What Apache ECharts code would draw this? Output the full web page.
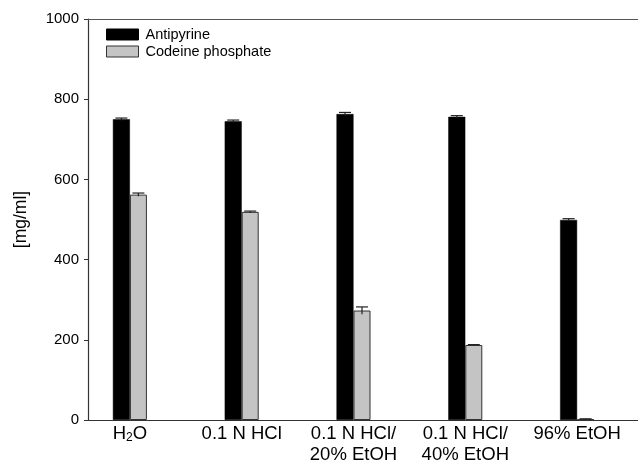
<!DOCTYPE html>
<html>
<head>
<meta charset="utf-8">
<script src="https://cdn.jsdelivr.net/npm/echarts@6/dist/echarts.min.js"></script>
<style>
html,body{margin:0;padding:0;background:#fff;}
#c{width:638px;height:463px;}
</style>
</head>
<body>
<div id="c"></div>
<script>
var categories = ['H2O', '0.1 N HCl', '0.1 N HCl/\n20% EtOH', '0.1 N HCl/\n40% EtOH', '96% EtOH'];
var antipyrine = [750, 745, 763, 756, 499];
var antipyrineErr = [3, 3, 4, 3, 3];
var codeine = [562, 519, 273, 187, 2];
var codeineErr = [4, 2, 9, 1, 1];
var yTicks = [0, 200, 400, 600, 800, 1000];

var FONT = 'Liberation Sans, Arial, sans-serif';
var BW = 17;

function errSeries(name, vals, errs, side) {
  return {
    type: 'custom',
    name: name + ' err',
    xAxisIndex: 0, yAxisIndex: 0,
    silent: true,
    data: vals.map(function (v, i) { return [i, v, errs[i]]; }),
    renderItem: function (params, api) {
      var i = api.value(0), v = api.value(1), e = api.value(2);
      var c = api.coord([i, v]);
      var x = c[0] + side * BW / 2;
      var top = api.coord([i, v + e])[1];
      var bot = api.coord([i, v - e])[1];
      var hw = 6;
      var st = { stroke: '#222', lineWidth: 1.2 };
      return {
        type: 'group',
        children: [
          { type: 'line', shape: { x1: x, y1: top, x2: x, y2: bot }, style: st },
          { type: 'line', shape: { x1: x - hw, y1: top, x2: x + hw, y2: top }, style: st }
        ]
      };
    },
    z: 5
  };
}

var chart = echarts.init(document.getElementById('c'), null, { renderer: 'canvas' });
chart.setOption({
  animation: false,
  backgroundColor: '#fff',
  textStyle: { fontFamily: FONT, color: '#000' },
  grid: [
    { left: 74, right: 5, top: 19, bottom: 43, containLabel: false, outerBoundsMode: 'none' },
    { left: 88, right: 0, top: 19, bottom: 43, containLabel: false, outerBoundsMode: 'none' }
  ],
  legend: {
    orient: 'vertical',
    left: 106, top: 27, padding: 0,
    icon: 'rect',
    itemWidth: 32, itemHeight: 11, itemGap: 2,
    textStyle: { fontSize: 14.5, color: '#000', fontFamily: FONT, padding: [0, 0, 0, 2] },
    data: [
      { name: 'Antipyrine', itemStyle: { color: '#000', borderColor: '#000', borderWidth: 1 } },
      { name: 'Codeine phosphate', itemStyle: { color: '#c4c4c4', borderColor: '#333', borderWidth: 1 } }
    ]
  },
  xAxis: [
    {
      type: 'category', gridIndex: 0, data: categories,
      axisLine: { show: false }, axisTick: { show: false },
      axisLabel: {
        margin: 3, interval: 0,
        formatter: function (v) {
          if (v === 'H2O') return '{a|H}{s|2}{a|O}';
          return v.split('\n').map(function (l) { return '{a|' + l + '}'; }).join('\n');
        },
        rich: {
          a: { fontSize: 18.5, lineHeight: 21, color: '#000', fontFamily: FONT },
          s: { fontSize: 12, lineHeight: 21, color: '#000', fontFamily: FONT, padding: [8, 0, 0, 0] }
        }
      }
    },
    {
      type: 'value', gridIndex: 1, position: 'bottom', min: 0, max: 1,
      axisLine: { show: true, lineStyle: { color: '#333', width: 1.2 } },
      axisTick: { show: false }, axisLabel: { show: false }, splitLine: { show: false }
    },
    {
      type: 'value', gridIndex: 1, position: 'top', min: 0, max: 1,
      axisLine: { show: true, onZero: false, lineStyle: { color: '#555', width: 1.2 } },
      axisTick: { show: false }, axisLabel: { show: false }, splitLine: { show: false }
    }
  ],
  yAxis: [
    {
      type: 'value', gridIndex: 0, min: 0, max: 1000, interval: 200,
      show: false
    },
    {
      type: 'value', gridIndex: 1, min: yTicks[0], max: yTicks[yTicks.length - 1], interval: 200,
      name: '[mg/ml]', nameLocation: 'middle', nameGap: 58,
      nameTextStyle: { fontSize: 17.5, color: '#000', fontFamily: FONT },
      axisLine: { show: true, lineStyle: { color: '#333', width: 1.2 } },
      axisTick: { show: true, length: 4, lineStyle: { color: '#333' } },
      axisLabel: { fontSize: 15, color: '#000', margin: 9, fontFamily: FONT, formatter: function (v) { return String(v); } },
      splitLine: { show: false }
    }
  ],
  series: [
    {
      name: 'Antipyrine', type: 'bar', xAxisIndex: 0, yAxisIndex: 0,
      data: antipyrine, barWidth: BW, barGap: '0%',
      itemStyle: { color: '#000', borderColor: '#000', borderWidth: 0.5 }
    },
    {
      name: 'Codeine phosphate', type: 'bar', xAxisIndex: 0, yAxisIndex: 0,
      data: codeine, barWidth: BW, barGap: '0%',
      itemStyle: { color: '#c4c4c4', borderColor: '#333', borderWidth: 1 }
    },
    errSeries('Antipyrine', antipyrine, antipyrineErr, -1),
    errSeries('Codeine phosphate', codeine, codeineErr, 1)
  ]
});
</script>
</body>
</html>
